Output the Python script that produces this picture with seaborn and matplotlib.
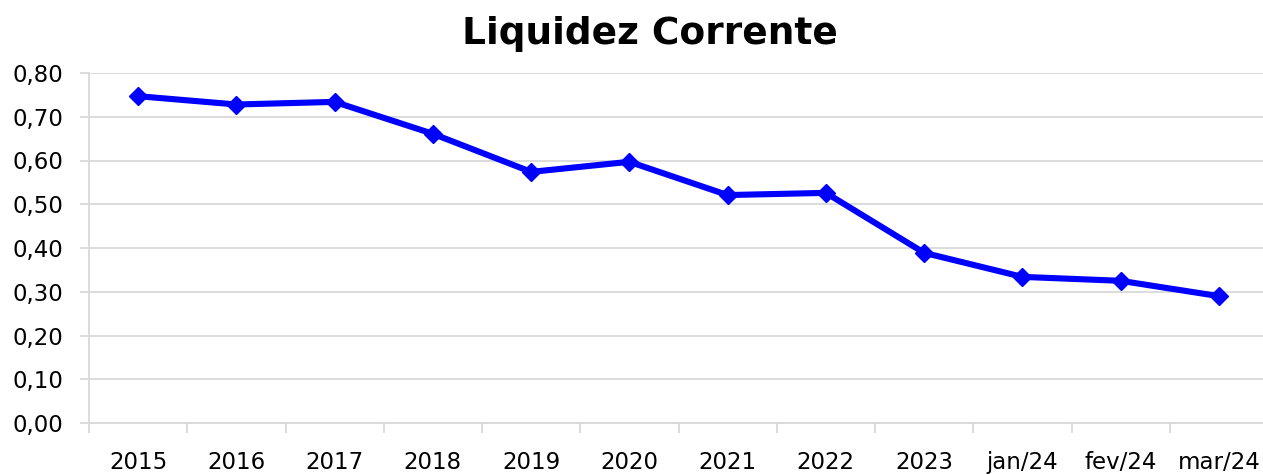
import matplotlib
matplotlib.use("Agg")
import matplotlib.pyplot as plt
import seaborn as sns
import pandas as pd
from matplotlib.ticker import FuncFormatter, FixedLocator

periodos = ["2015", "2016", "2017", "2018", "2019", "2020",
            "2021", "2022", "2023", "jan/24", "fev/24", "mar/24"]
liquidez = [0.747, 0.728, 0.734, 0.661, 0.574, 0.597,
            0.521, 0.526, 0.389, 0.334, 0.325, 0.290]

df = pd.DataFrame({"periodo": periodos, "liquidez": liquidez})

sns.set_style("white")
plt.rcParams["font.family"] = ["DejaVu Sans"]
plt.rcParams["text.color"] = "black"

fig = plt.figure(figsize=(12.63, 4.74), dpi=100)
ax = fig.add_axes([89 / 1263, 1 - 423 / 474, (1268 - 89) / 1263, (423 - 73) / 474])

sns.lineplot(data=df, x="periodo", y="liquidez", ax=ax, sort=False,
             color="#0000ff", linewidth=4.4, marker="D", markersize=9,
             markeredgecolor="#0000ff", markeredgewidth=1)

ax.set_xlim(-0.5, len(periodos) - 0.5)
ax.set_ylim(0, 0.8)
ax.set_yticks([i / 10 for i in range(9)])
ax.yaxis.set_major_formatter(FuncFormatter(lambda v, p: f"{v:.2f}".replace(".", ",")))
ax.yaxis.grid(True, color="#d9d9d9", linewidth=1.3)
ax.set_axisbelow(True)

ax.set_xticks(range(len(periodos)))
ax.set_xticklabels(periodos)
ax.xaxis.set_minor_locator(FixedLocator([i - 0.5 for i in range(len(periodos) + 1)]))
ax.tick_params(axis="x", which="major", length=0, pad=20, labelsize=16.5, labelcolor="black")
ax.tick_params(axis="x", which="minor", length=7, width=1.3, color="#d9d9d9", direction="out", bottom=True)
ax.tick_params(axis="y", length=6.5, width=1.3, color="#d9d9d9", labelsize=16.5, pad=12,
               left=True, labelcolor="black")

for s in ["top", "right"]:
    ax.spines[s].set_visible(False)
for s in ["left", "bottom"]:
    ax.spines[s].set_color("#d9d9d9")
    ax.spines[s].set_linewidth(1.3)

ax.set_xlabel("")
ax.set_ylabel("")
fig.text(650 / 1263, 1 - 34 / 474, "Liquidez Corrente", ha="center", va="center",
         fontsize=27, fontweight="bold", color="black")

fig.savefig("out.png", dpi=100)
